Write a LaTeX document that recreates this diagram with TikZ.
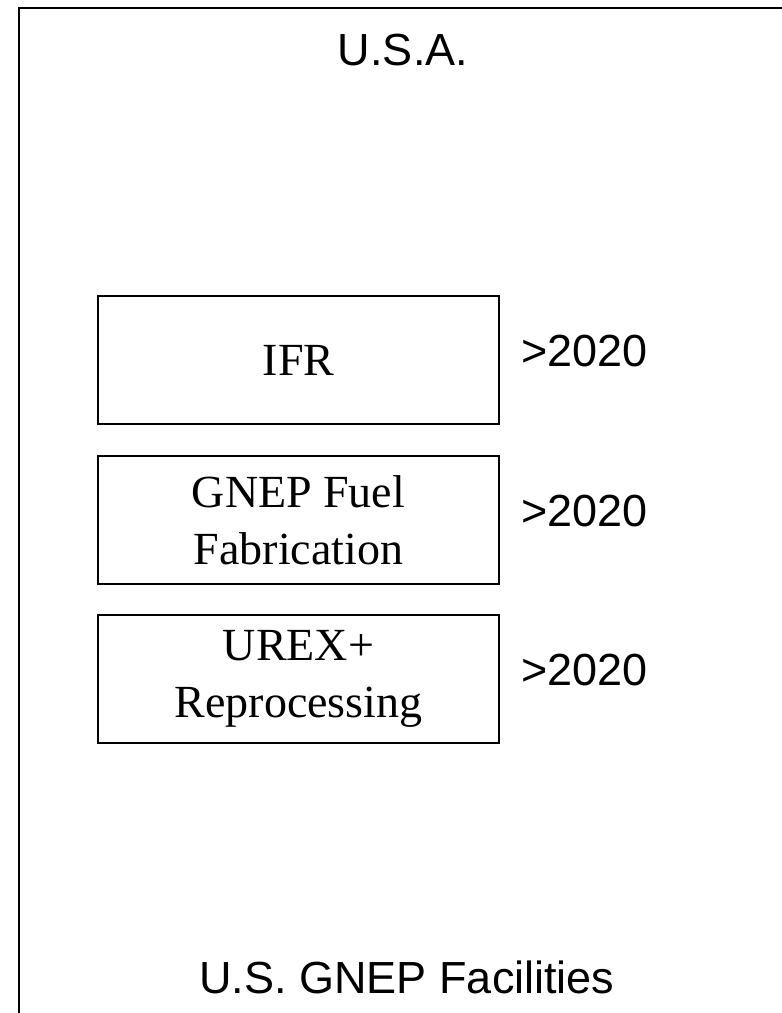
\documentclass[tikz,border=0pt]{standalone}
\usepackage{fontspec}
\setmainfont{Liberation Serif}
\newfontfamily\arialfont{Liberation Sans}
\usetikzlibrary{positioning}
\begin{document}
\begin{tikzpicture}[x=1pt,y=-1pt,
  facility/.style={draw,line width=2pt,minimum width=401pt,minimum height=128pt,inner sep=0pt,align=center,font=\fontsize{46}{57}\selectfont},
  year/.style={anchor=base west,inner sep=0pt,font=\arialfont\fontsize{45}{54}\selectfont}]
\useasboundingbox (0,0) rectangle (782,1013);
\clip (0,0) rectangle (782,1013);
\draw[line width=2.8pt] (19,8) rectangle (820,1060);
\node[anchor=base,inner sep=0pt,font=\arialfont\fontsize{45}{54}\selectfont] (country) at (403,65) {U.S.A.};
\node[facility] (ifr) at (298.5,360) {IFR};
\node[facility,below=30pt of ifr] (fuel) {GNEP Fuel\\Fabrication};
\node[facility,below=29pt of fuel] (urex) {UREX+\\Reprocessing};
\foreach \b in {ifr,fuel,urex}
  \node[year] (\b-year) at ([xshift=21pt,yshift=-71pt]\b.north east) {>2020};
\node[anchor=base,inner sep=0pt,font=\arialfont\fontsize{45}{54}\selectfont] (caption) at (407,993) {U.S. GNEP Facilities};
\end{tikzpicture}
\end{document}
